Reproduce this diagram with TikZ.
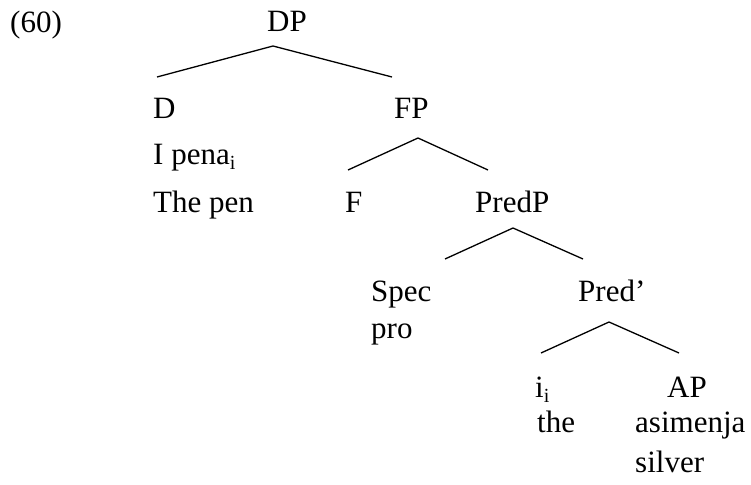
\documentclass[tikz,border=0pt]{standalone}
\usepackage{fontspec}
\setmainfont{Liberation Serif}
\newcommand{\subi}{\raisebox{-0.18em}{\fontsize{20}{20}\selectfont i}}
\begin{document}
\begin{tikzpicture}[x=1pt,y=-1pt,
  lbl/.style={anchor=base west,inner sep=0pt,font=\fontsize{31}{36}\selectfont},
  branch/.style={line width=1.3pt}]
\useasboundingbox[fill=white] (0,0) rectangle (751,484);
% labels
\node[lbl] (ex) at (10,33) {(60)};
\node[lbl] (dp) at (267,32) {DP};
\node[lbl] (d) at (153,118) {D};
\node[lbl] (fp) at (394,118) {FP};
\node[lbl] (ipena) at (153,164) {I pena\subi};
\node[lbl] (thepen) at (153,212) {The pen};
\node[lbl] (f) at (345,212) {F};
\node[lbl] (predp) at (475,212) {PredP};
\node[lbl] (spec) at (371,301) {Spec};
\node[lbl] (pro) at (371,338) {pro};
\node[lbl] (predbar) at (578,301) {Pred’};
\node[lbl] (ii) at (535,397) {i\subi};
\node[lbl] (ap) at (667,397) {AP};
\node[lbl] (the) at (537,432) {the};
\node[lbl] (asimenja) at (635,432) {asimenja};
\node[lbl] (silver) at (635,472) {silver};
% branch points
\coordinate (dpA) at (273,46);
\coordinate (dpL) at (157,77);
\coordinate (dpR) at (392,77);
\coordinate (fpA) at (418,138);
\coordinate (fpL) at (348,170);
\coordinate (fpR) at (488,170);
\coordinate (ppA) at (513,228);
\coordinate (ppL) at (445,259);
\coordinate (ppR) at (583,259);
\coordinate (pbA) at (609,322);
\coordinate (pbL) at (541,353);
\coordinate (pbR) at (679,353);
\draw[branch] (dpL) -- (dpA) -- (dpR);
\draw[branch] (fpL) -- (fpA) -- (fpR);
\draw[branch] (ppL) -- (ppA) -- (ppR);
\draw[branch] (pbL) -- (pbA) -- (pbR);
\end{tikzpicture}
\end{document}
